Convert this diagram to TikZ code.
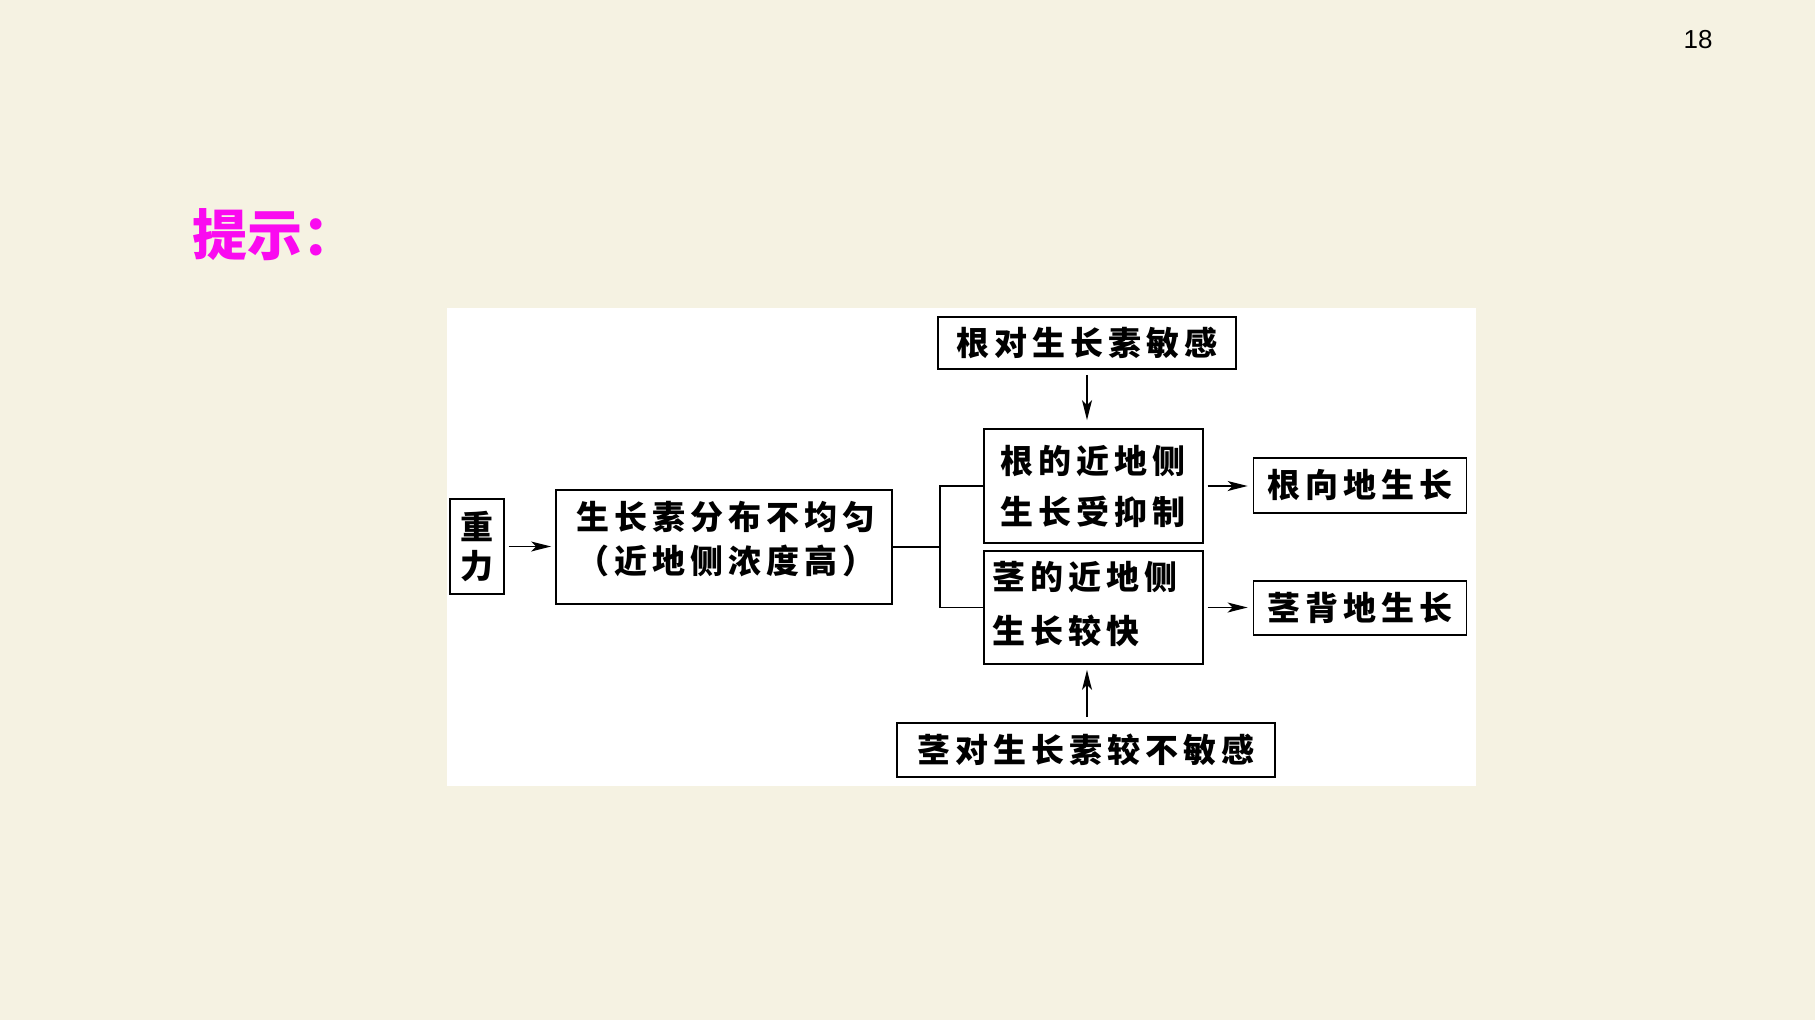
\documentclass[tikz,border=0pt]{standalone}
\usepackage{fontspec}
\setmainfont{Liberation Sans}
\newfontfamily\cjk{Noto Sans CJK SC}[LetterSpace=15]
\newfontfamily\cjktitle{Noto Sans CJK SC}
\usetikzlibrary{arrows.meta}
\definecolor{bgc}{RGB}{245,242,226}
\definecolor{mag}{RGB}{250,10,240}
\begin{document}
\begin{tikzpicture}[x=1pt,y=-1pt,
  box/.style={draw=black, line width=1.8pt, fill=white, inner sep=0pt, align=center,
    font=\cjk\bfseries\fontsize{33}{44}\selectfont},
  txt/.style={inner sep=0pt, font=\cjk\bfseries\fontsize{33}{44}\selectfont},
  arr/.style={line width=1.6pt, -{Stealth[length=20pt,width=10pt,inset=5pt]}},
  conn/.style={line width=1.6pt}]
\useasboundingbox (0,0) rectangle (1815,1020);
\fill[bgc] (0,0) rectangle (1815,1020);
\node[font=\fontsize{26}{30}\selectfont] (pg) at (1698,40) {18};
\node[anchor=west, text=mag, font=\cjktitle\bfseries\fontsize{55}{60}\selectfont, inner sep=0pt] (ts) at (192,235) {提示：};
\fill[white] (447,308) rectangle (1476,786);
\node[box, minimum width=53.5pt, minimum height=95pt, font=\cjk\bfseries\fontsize{33}{39}\selectfont] (zl) at (477,546.5) {重\\力};
\node[box, minimum width=336pt, minimum height=114pt] (fb) at (724,547) {};
\node[txt, align=center] (fbt) at (726,539) {生长素分布不均匀\\（近地侧浓度高）};
\node[box, minimum width=298pt, minimum height=52pt] (rt) at (1087,343) {根对生长素敏感};
\node[box, minimum width=218.6pt, minimum height=114pt, font=\cjk\bfseries\fontsize{33}{51}\selectfont] (gj) at (1093.3,486) {根的近地侧\\生长受抑制};
\node[box, minimum width=218.6pt, minimum height=113pt] (jj) at (1093.3,607.5) {};
\node[txt, anchor=west, align=left, font=\cjk\bfseries\fontsize{33}{54}\selectfont] (jjt) at (992,604) {茎的近地侧\\生长较快};
\node[box, minimum width=378.6pt, minimum height=54pt] (bt) at (1086,750) {茎对生长素较不敏感};
\node[box, minimum width=213pt, minimum height=55pt] (gx) at (1360,485.5) {根向地生长};
\node[box, minimum width=213pt, minimum height=54.5pt] (jb) at (1360,608) {茎背地生长};
\coordinate (br) at (940,547);
\draw[arr, shorten <=4pt, shorten >=4pt] (zl.east) -- (zl.east -| fb.west);
\draw[conn] (fb.east) -- (br);
\draw[conn] (gj.west) -| (br) |- (jj.west);
\draw[arr, shorten <=5pt, shorten >=8pt] (rt.south) -- (rt.south |- gj.north);
\draw[arr, shorten <=5pt, shorten >=5pt] (bt.north -| rt.south) -- (jj.south -| rt.south);
\draw[arr, shorten <=4pt, shorten >=5pt] (gj.east) -- (gj.east -| gx.west);
\draw[arr, shorten <=4pt, shorten >=5pt] (jj.east) -- (jj.east -| jb.west);
\end{tikzpicture}
\end{document}
